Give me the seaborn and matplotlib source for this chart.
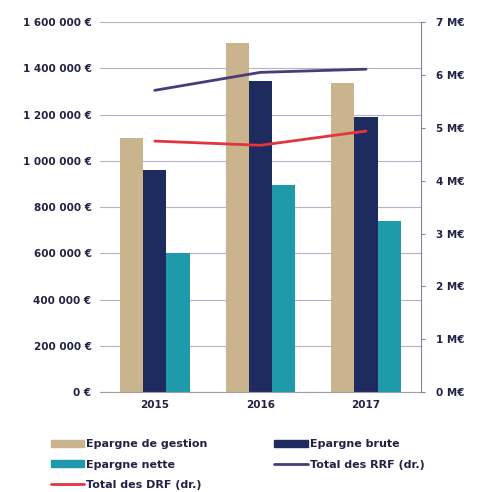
import matplotlib
matplotlib.use("Agg")
import matplotlib.pyplot as plt
import numpy as np
import pandas as pd
import seaborn as sns
from matplotlib.lines import Line2D
from matplotlib.patches import Patch
from matplotlib.ticker import FuncFormatter

years = ["2015", "2016", "2017"]
epargne_gestion = [1100000, 1510000, 1335000]
epargne_brute = [960000, 1345000, 1190000]
epargne_nette = [600000, 895000, 740000]
total_rrf = [5.71, 6.05, 6.11]   # M€, right axis
total_drf = [4.75, 4.67, 4.94]   # M€, right axis

series_names = ["Epargne de gestion", "Epargne brute", "Epargne nette"]
bar_colors = ["#C9B48E", "#1E2B5E", "#1E9AAB"]
rrf_color = "#4A3B7C"
drf_color = "#E3343F"

df = pd.DataFrame({
    "year": years * 3,
    "serie": np.repeat(series_names, len(years)),
    "value": epargne_gestion + epargne_brute + epargne_nette,
})

sns.set_style("white")
plt.rcParams["font.family"] = ["DejaVu Sans"]

fig = plt.figure(figsize=(4.8, 4.92), dpi=100)
ax = fig.add_axes([0.208, 0.203, 0.669, 0.752])

sns.barplot(
    data=df, x="year", y="value", hue="serie", palette=bar_colors,
    width=0.66, gap=0, saturation=1, linewidth=0, ax=ax, legend=False,
)

ax.set_ylim(0, 1600000)
ax.set_xlim(-0.52, 2.52)
ax.set_yticks(np.arange(0, 1600001, 200000))
ax.yaxis.set_major_formatter(
    FuncFormatter(lambda v, _: f"{int(v):,} €".replace(",", " ")))
ax.grid(axis="y", color="#B8B0C8", linewidth=0.8)
ax.set_axisbelow(True)
ax.set_xlabel("")
ax.set_ylabel("")
for side in ["top", "right", "left"]:
    ax.spines[side].set_visible(False)
ax.spines["bottom"].set_color("#A0A0A0")
ax.tick_params(axis="both", length=0, labelsize=7.5, pad=6)
for lbl in ax.get_yticklabels() + ax.get_xticklabels():
    lbl.set_fontweight("bold")
    lbl.set_color("#222244")

ax2 = ax.twinx()
x_pos = np.arange(len(years))
ax2.plot(x_pos, total_rrf, color=rrf_color, linewidth=2)
ax2.plot(x_pos, total_drf, color=drf_color, linewidth=2)
ax2.set_ylim(0, 7)
ax2.set_yticks(range(0, 8))
ax2.yaxis.set_major_formatter(FuncFormatter(lambda v, _: f"{int(v)} M€"))
for side in ["top", "left", "bottom"]:
    ax2.spines[side].set_visible(False)
ax2.spines["right"].set_color("#8A80A0")
ax2.tick_params(axis="y", length=3, color="#8A80A0", labelsize=7.5, pad=8)
for lbl in ax2.get_yticklabels():
    lbl.set_fontweight("bold")
    lbl.set_color("#222244")

handles = [
    Patch(color=bar_colors[0], label="Epargne de gestion"),
    Patch(color=bar_colors[2], label="Epargne nette"),
    Line2D([], [], color=drf_color, linewidth=2, label="Total des DRF (dr.)"),
    Patch(color=bar_colors[1], label="Epargne brute"),
    Line2D([], [], color=rrf_color, linewidth=2, label="Total des RRF (dr.)"),
]
leg = fig.legend(
    handles=handles, ncol=2, loc="upper left", bbox_to_anchor=(0.085, 0.128),
    frameon=False, fontsize=8, handlelength=3.0, handleheight=0.6,
    handletextpad=0.2, columnspacing=6.0, labelspacing=0.95,
)
for t in leg.get_texts():
    t.set_fontweight("bold")
    t.set_color("#222244")

fig.savefig("out.png", dpi=100)
